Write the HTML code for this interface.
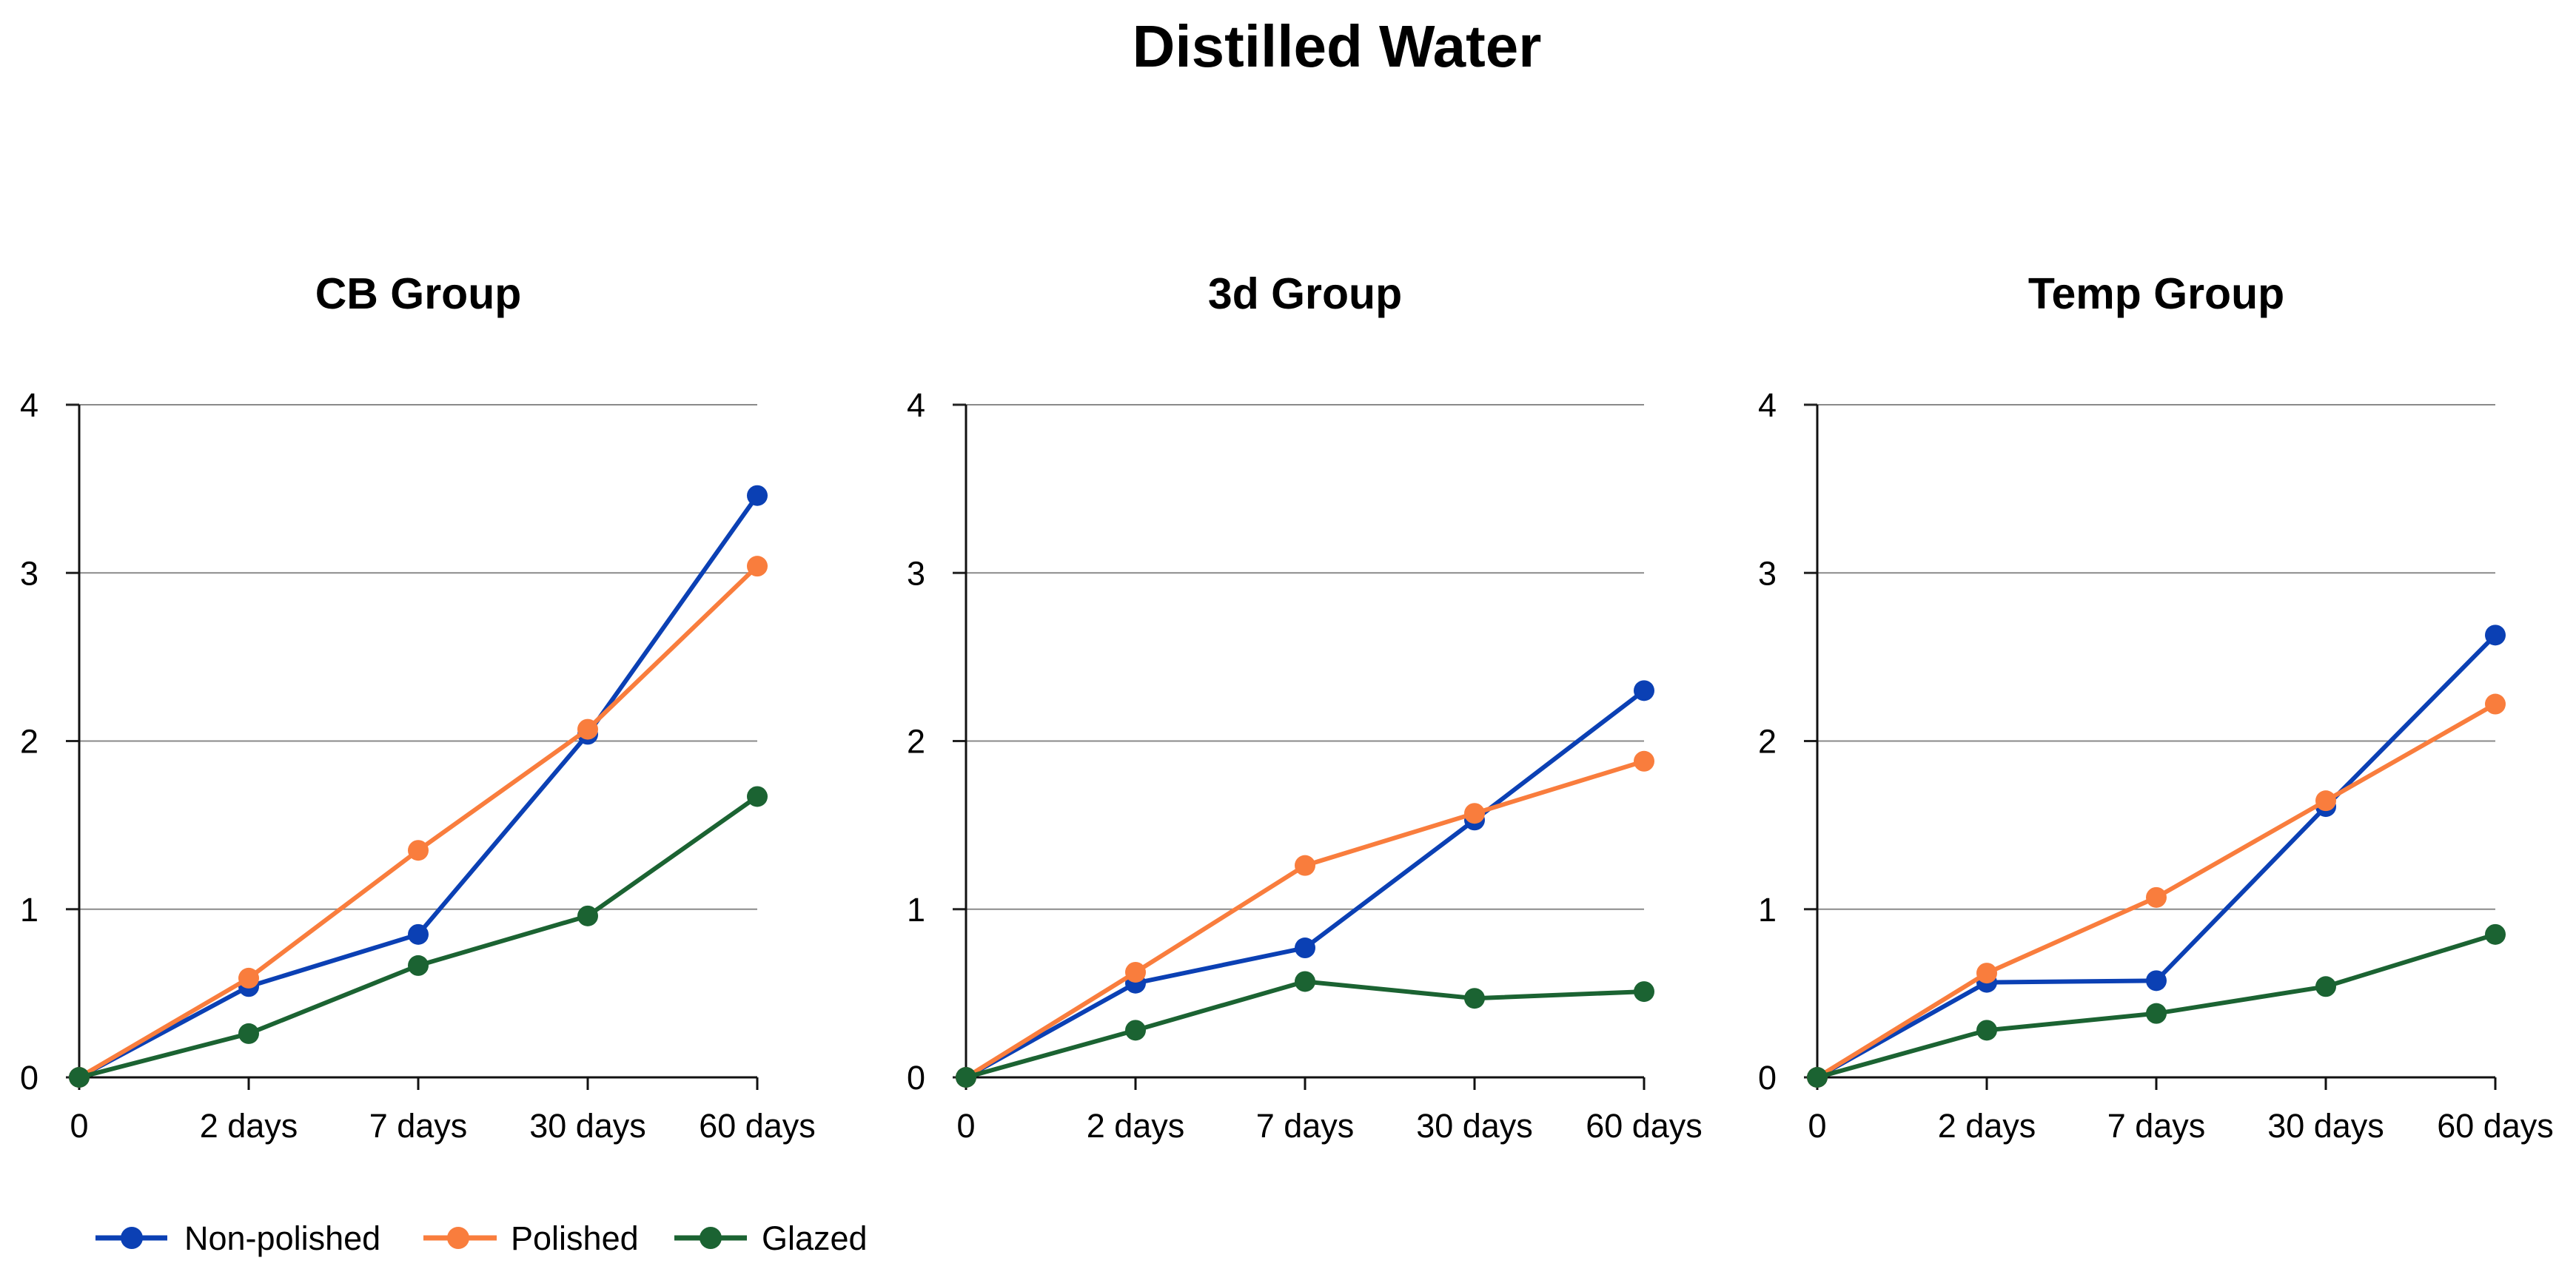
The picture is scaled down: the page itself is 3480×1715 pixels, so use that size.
<!DOCTYPE html>
<html><head><meta charset="utf-8"><style>
html,body{margin:0;padding:0;background:#fff;}
svg{display:block;font-family:"Liberation Sans",sans-serif;}
</style></head><body>
<svg id="chart" width="3480" height="1715" viewBox="0 0 3480 1715" xmlns="http://www.w3.org/2000/svg">
<rect width="3480" height="1715" fill="#fff"/>
<text x="1806" y="90" font-size="80" font-weight="bold" text-anchor="middle" fill="#000">Distilled Water</text>
<g id="legend">
 <g>
  <line x1="129" y1="1673" x2="226" y2="1673" stroke="#0b40b4" stroke-width="7"/>
  <circle cx="178" cy="1673" r="15" fill="#0b40b4"/>
  <text x="249" y="1689" font-size="45" fill="#000">Non-polished</text>
 </g>
 <g>
  <line x1="572" y1="1673" x2="671" y2="1673" stroke="#f97d3d" stroke-width="7"/>
  <circle cx="619" cy="1673" r="15" fill="#f97d3d"/>
  <text x="690" y="1689" font-size="45" fill="#000">Polished</text>
 </g>
 <g>
  <line x1="911" y1="1673" x2="1009" y2="1673" stroke="#1b6332" stroke-width="7"/>
  <circle cx="960" cy="1673" r="15" fill="#1b6332"/>
  <text x="1029" y="1689" font-size="45" fill="#000">Glazed</text>
 </g>
</g>
</svg>
<script>
const categories = ["0", "2 days", "7 days", "30 days", "60 days"];
const yTicks = [0, 1, 2, 3, 4];
const panelTitles = ["CB Group", "3d Group", "Temp Group"];
const seriesNames = ["Non-polished", "Polished", "Glazed"];
const cbNonPolished = [0, 0.54, 0.85, 2.04, 3.46];
const cbPolished = [0, 0.59, 1.35, 2.07, 3.04];
const cbGlazed = [0, 0.26, 0.665, 0.96, 1.67];
const d3NonPolished = [0, 0.56, 0.77, 1.53, 2.30];
const d3Polished = [0, 0.625, 1.26, 1.57, 1.88];
const d3Glazed = [0, 0.28, 0.57, 0.47, 0.51];
const tempNonPolished = [0, 0.565, 0.575, 1.61, 2.63];
const tempPolished = [0, 0.62, 1.07, 1.645, 2.22];
const tempGlazed = [0, 0.28, 0.38, 0.54, 0.85];

const panelData = [
  [cbNonPolished, cbPolished, cbGlazed],
  [d3NonPolished, d3Polished, d3Glazed],
  [tempNonPolished, tempPolished, tempGlazed]
];
const colors = ["#0b40b4", "#f97d3d", "#1b6332"];
const panelX0 = [107, 1305, 2455];
const plotW = 916, yTop = 547, yBot = 1456, yMax = 4;
const NS = "http://www.w3.org/2000/svg";
const svg = document.getElementById("chart");
function mk(tag, attrs, parent) {
  const e = document.createElementNS(NS, tag);
  for (const k in attrs) e.setAttribute(k, attrs[k]);
  parent.appendChild(e);
  return e;
}
function slug(s){return s.toLowerCase().replace(/[^a-z0-9]+/g,'-');}
panelData.forEach((series, p) => {
  const x0 = panelX0[p];
  const xs = i => x0 + i * plotW / (categories.length - 1);
  const ys = v => yBot - v / yMax * (yBot - yTop);
  const g = mk("g", {}, svg);
  
  
  const t = mk("text", {x: x0 + plotW / 2, y: 417, "font-size": 59, "font-weight": "bold", "text-anchor": "middle", fill: "#000"}, g);
  t.textContent = panelTitles[p];
  
  
  yTicks.forEach(v => {
    if (v > 0) {
      const gl = mk("line", {x1: x0, x2: x0 + plotW, y1: ys(v), y2: ys(v), stroke: "#8a8a8a", "stroke-width": 2}, g);
      
      
    }
    const tk = mk("line", {x1: x0 - 18, x2: x0, y1: ys(v), y2: ys(v), stroke: "#222", "stroke-width": 3}, g);
    
    
    const lb = mk("text", {x: x0 - 55, y: ys(v) + 16, "font-size": 45, "text-anchor": "end", fill: "#000"}, g);
    lb.textContent = String(v);
    
    
  });
  const ya = mk("line", {x1: x0, x2: x0, y1: yTop, y2: yBot, stroke: "#111", "stroke-width": 3}, g);
  
  
  const xa = mk("line", {x1: x0, x2: x0 + plotW, y1: yBot, y2: yBot, stroke: "#111", "stroke-width": 3}, g);
  
  
  categories.forEach((c, i) => {
    const tk = mk("line", {x1: xs(i), x2: xs(i), y1: yBot, y2: yBot + 17, stroke: "#111", "stroke-width": 3}, g);
    
    
    const lb = mk("text", {x: xs(i), y: 1537, "font-size": 45, "text-anchor": "middle", fill: "#000"}, g);
    lb.textContent = c;
    
    
  });
  series.forEach((vals, s) => {
    const sg = mk("g", {}, g);
    
    
    const pts = vals.map((v, i) => xs(i) + "," + ys(v)).join(" ");
    const pl = mk("polyline", {points: pts, fill: "none", stroke: colors[s], "stroke-width": 6, "stroke-linejoin": "round"}, sg);
    
    
    vals.forEach((v, i) => {
      const c = mk("circle", {cx: xs(i), cy: ys(v), r: 14, fill: colors[s]}, sg);
      
      
    });
  });
});
</script>
</body></html>
